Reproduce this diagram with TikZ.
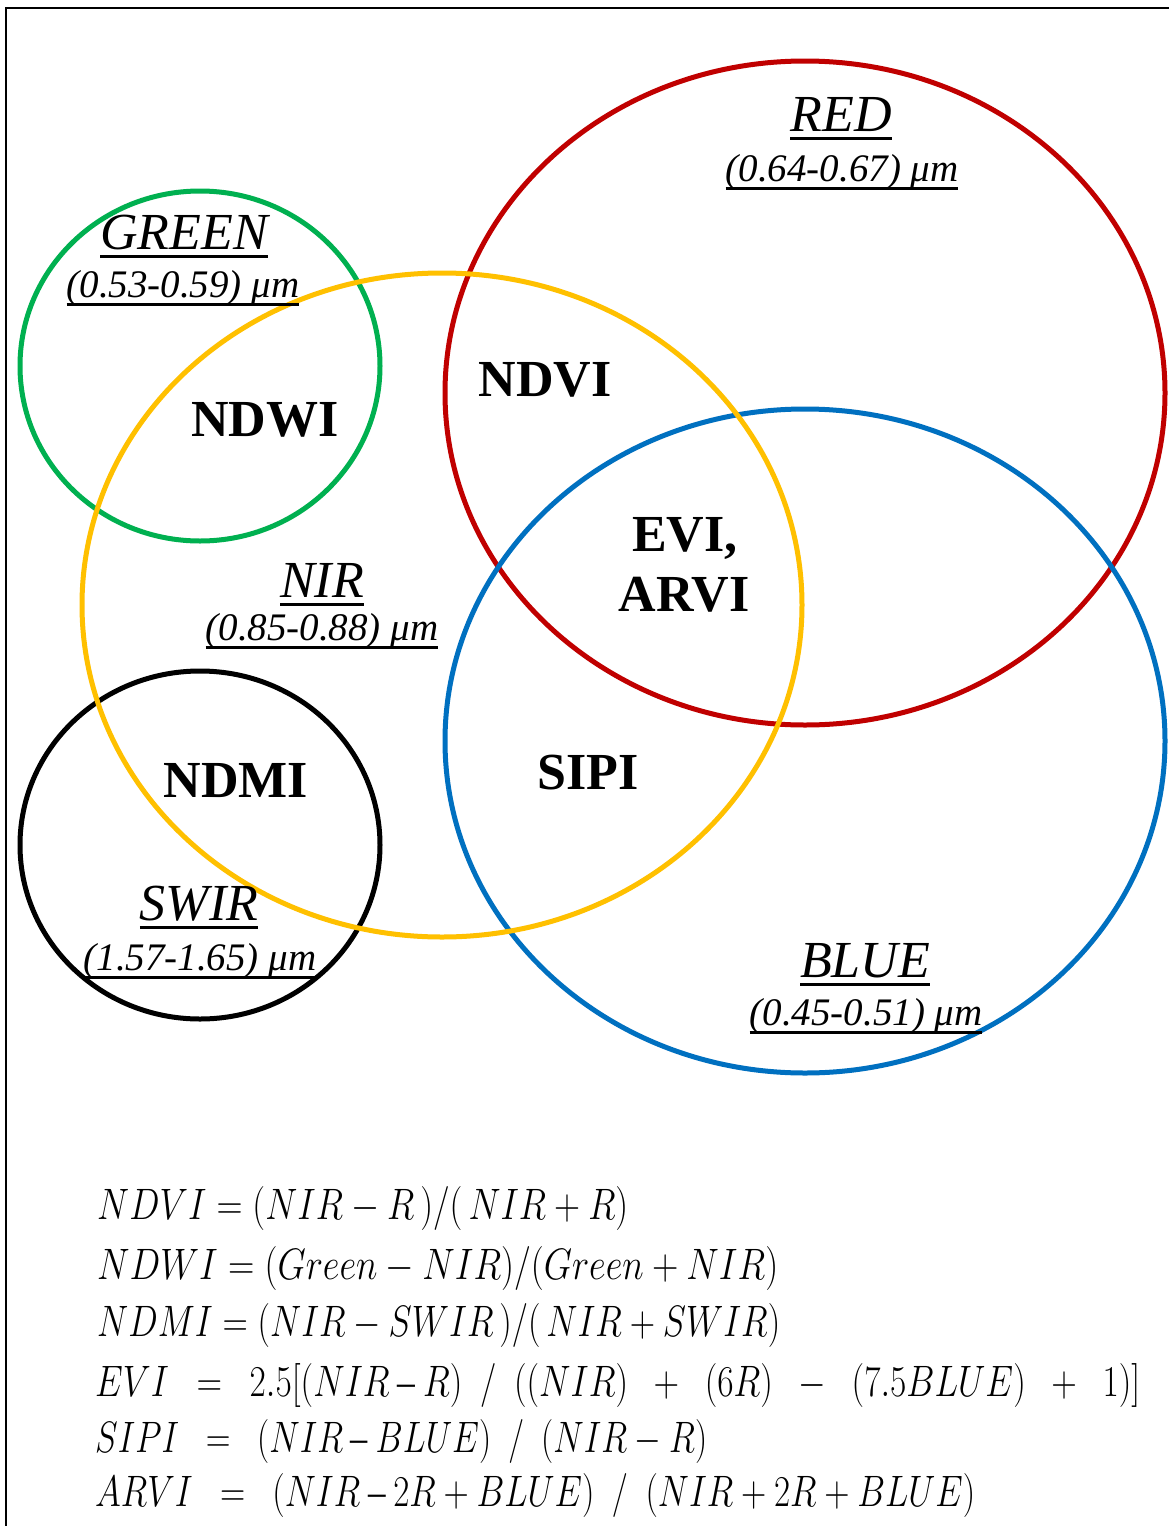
\RequirePackage{fix-cm}
\documentclass[tikz,border=0pt]{standalone}
\usepackage{fontspec}
\setmainfont{Liberation Serif}
\usepackage{graphicx}
\newsavebox\ulbox
\newcommand\myul[1]{\sbox\ulbox{#1}\rlap{\rule[-9pt]{\wd\ulbox}{3pt}}\usebox\ulbox}
\newcommand\ed{\mathbin{\mbox{–}}}
\definecolor{cgreen}{HTML}{00B050}
\definecolor{cyellow}{HTML}{FFC000}
\definecolor{cred}{HTML}{C00000}
\definecolor{cblue}{HTML}{0070C0}
\begin{document}
\begin{tikzpicture}[x=1pt,y=-1pt,
  ringline/.style={line width=5pt},
  idxlabel/.style={font=\fontsize{52}{60}\selectfont\bfseries, anchor=base, inner sep=0pt},
  bandlabel/.style={font=\fontsize{52}{60}\selectfont\itshape, anchor=base, inner sep=0pt},
  rangelabel/.style={font=\fontsize{39}{45}\selectfont\itshape, anchor=base, inner sep=0pt},
  eqnlabel/.style={font=\fontsize{44}{50}\selectfont, anchor=base west, inner sep=0pt}]
\useasboundingbox (0,0) rectangle (1169,1526);
\fill[white] (0,0) rectangle (1169,1526);
\draw[line width=2.5pt] (6,1526) -- (6,8) -- (1169,8);

% circles
\draw[ringline, cgreen] (200,366) ellipse [x radius=180pt, y radius=175pt];
\draw[ringline, black] (200,845) ellipse [x radius=180pt, y radius=174pt];
\draw[ringline, cred] (805,393) ellipse [x radius=360pt, y radius=332pt];
\draw[ringline, cblue] (805,741) ellipse [x radius=360pt, y radius=332pt];
\draw[ringline, cyellow] (442,605) ellipse [x radius=360pt, y radius=332pt];

% band labels
\node[bandlabel] (green) at (184,249) {\myul{GREEN}};
\node[rangelabel] (greenr) at (183,297) {\myul{(0.53-0.59) μm}};
\node[bandlabel] (red) at (841,131) {\myul{RED}};
\node[rangelabel] (redr) at (842,181) {\myul{(0.64-0.67) μm}};
\node[bandlabel] (nir) at (322,597) {\myul{NIR}};
\node[rangelabel] (nirr) at (322,640) {\myul{(0.85-0.88) μm}};
\node[bandlabel] (swir) at (199,920) {\myul{SWIR}};
\node[rangelabel] (swirr) at (200,970) {\myul{(1.57-1.65) μm}};
\node[bandlabel] (blue) at (865,977) {\myul{BLUE}};
\node[rangelabel] (bluer) at (866,1025) {\myul{(0.45-0.51) μm}};

% index labels
\node[idxlabel] (ndwi) at (265,436) {NDWI};
\node[idxlabel] (ndvi) at (545,396) {NDVI};
\node[idxlabel] (evi) at (685,551) {EVI,};
\node[idxlabel] (arvi) at (684,611) {ARVI};
\node[idxlabel] (ndmi) at (236,797) {NDMI};
\node[idxlabel] (sipi) at (588,789) {SIPI};

% equations
\node[eqnlabel] (e1) at (97,1219) {\resizebox{531pt}{\height}{$NDVI = (NIR - R\,)/(\,NIR + R)$}};
\node[eqnlabel] (e2) at (97,1279) {\resizebox{681pt}{\height}{$NDWI = (Green - NIR)/(Green + NIR)$}};
\node[eqnlabel] (e3) at (97,1336) {\resizebox{683pt}{\height}{$NDMI = (NIR - SWIR\,)/(\,NIR + SWIR)$}};
\node[eqnlabel] (e4) at (95,1396) {\resizebox{1045pt}{\height}{$EVI\ \ =\ \ 2.5[(NIR \ed R)\ \ /\ \ ((NIR)\ \ +\ \ (6R)\ \ -\ \ (7.5BLUE)\ \ +\ \ 1)]$}};
\node[eqnlabel] (e5) at (95,1452) {\resizebox{612pt}{\height}{$SIPI\ \ =\ \ (NIR \ed BLUE)\ \ /\ \ (NIR - R)$}};
\node[eqnlabel] (e6) at (95,1506) {\resizebox{880pt}{\height}{$ARVI\ \ =\ \ (NIR \ed 2R + BLUE)\ \ /\ \ (NIR + 2R + BLUE)$}};
\end{tikzpicture}
\end{document}
